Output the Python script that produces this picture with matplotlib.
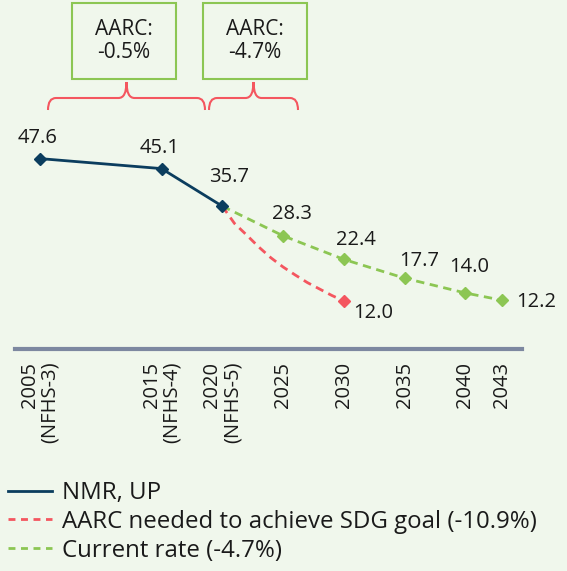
import matplotlib.pyplot as plt
from matplotlib.path import Path
from matplotlib.lines import Line2D
import matplotlib.patches as patches

plt.rcParams['font.family'] = ['Open Sans', 'DejaVu Sans']

# datos
nmr_years = [2005, 2015, 2020]
nmr_vals = [47.6, 45.1, 35.7]

sdg_years = [2020, 2021, 2022, 2023, 2024, 2025, 2026, 2027, 2028, 2029, 2030]
sdg_vals = [35.7, 31.4, 28.5, 25.5, 22.8, 20.5, 18.5, 16.6, 15.0, 13.4, 12.0]

cur_years = [2020, 2025, 2030, 2035, 2040, 2043]
cur_vals = [35.7, 28.3, 22.4, 17.7, 14.0, 12.2]

tick_years = [2005, 2015, 2020, 2025, 2030, 2035, 2040, 2043]
tick_labels = ['2005\n(NFHS-3)', '2015\n(NFHS-4)', '2020\n(NFHS-5)', '2025',
               '2030', '2035', '2040', '2043']

aarc_boxes = ['AARC:\n-0.5%', 'AARC:\n-4.7%']
leg_labels = ['NMR, UP', 'AARC needed to achieve SDG goal (-10.9%)',
              'Current rate (-4.7%)']

bg = '#f0f7ec'
navy = '#0b3d5e'
red = '#f4565f'
green = '#8cc653'
txt = '#1a1a1a'
fs = 14.5

W, H = 567, 571
fig = plt.figure(figsize=(W / 100, H / 100), dpi=100, facecolor=bg)
ax = fig.add_axes([15 / W, 1 - 349 / H, 507 / W, 200 / H])
ax.set_facecolor(bg)

dash = (0, (3, 2))
ax.plot(nmr_years, nmr_vals, color=navy, lw=2, marker='D', ms=6, zorder=4)
ax.plot(sdg_years, sdg_vals, color=red, lw=2, ls=dash, zorder=3)
ax.plot(sdg_years[-1], sdg_vals[-1], color=red, marker='D', ms=6, zorder=3)
ax.plot(cur_years, cur_vals, color=green, lw=2, ls=dash, zorder=2)
ax.plot(cur_years[1:], cur_vals[1:], color=green, marker='D', ms=6, ls='none',
        zorder=2)

# etiquetas de valores (offset en puntos)
offs = {
    (2005, 47.6): (-1.5, 15, 'center'),
    (2015, 45.1): (-1.5, 15, 'center'),
    (2020, 35.7): (5, 21, 'center'),
    (2025, 28.3): (6.5, 16, 'center'),
    (2030, 22.4): (8.5, 14, 'center'),
    (2035, 17.7): (10.5, 12.5, 'center'),
    (2040, 14.0): (3, 18.5, 'center'),
}
for (x, y), (dx, dy, ha) in offs.items():
    ax.annotate(f'{y:.1f}', (x, y), xytext=(dx, dy), textcoords='offset points',
                ha=ha, va='center', fontsize=fs, color=txt)
ax.annotate(f'{cur_vals[-1]:.1f}', (cur_years[-1], cur_vals[-1]), xytext=(10, -1.5),
            textcoords='offset points', ha='left', va='center', fontsize=fs, color=txt)
ax.annotate(f'{sdg_vals[-1]:.1f}', (sdg_years[-1], sdg_vals[-1]), xytext=(6.5, -8.5),
            textcoords='offset points', ha='left', va='center', fontsize=fs, color=txt)

ax.set_xlim(2002.95, 2044.65)
ax.set_ylim(0, 50)
for s in ['top', 'right', 'left']:
    ax.spines[s].set_visible(False)
ax.spines['bottom'].set_color('#7d88a0')
ax.spines['bottom'].set_linewidth(3)
ax.set_yticks([])
ax.set_xticks(tick_years)
ax.set_xticklabels(tick_labels, rotation=90, va='top', ha='center',
                   multialignment='right', fontsize=fs, color=txt, linespacing=1.0)
ax.tick_params(axis='x', length=0, pad=9)

# cajas AARC
for x0, lab in zip([72, 203], aarc_boxes):
    r = patches.Rectangle((x0 / W, 1 - 79 / H), 104 / W, 76 / H,
                          transform=fig.transFigure, fill=False,
                          edgecolor=green, lw=1.5)
    fig.add_artist(r)
    fig.text((x0 + 52) / W, 1 - 41 / H, lab, ha='center', va='center',
             fontsize=15, color=txt, linespacing=1.15)

# llaves
def brace(x0, x1, y_end=110, y_flat=98, y_tip=82, r=8):
    xm = (x0 + x1) / 2
    verts = [(x0, y_end), (x0, y_flat), (x0 + r, y_flat),
             (xm - r, y_flat),
             (xm, y_flat), (xm, y_tip),
             (xm, y_flat), (xm + r, y_flat),
             (x1 - r, y_flat),
             (x1, y_flat), (x1, y_end)]
    codes = [Path.MOVETO, Path.CURVE3, Path.CURVE3, Path.LINETO,
             Path.CURVE3, Path.CURVE3,
             Path.CURVE3, Path.CURVE3, Path.LINETO, Path.CURVE3, Path.CURVE3]
    verts = [(vx / W, 1 - vy / H) for vx, vy in verts]
    p = patches.PathPatch(Path(verts, codes), transform=fig.transFigure,
                          fill=False, edgecolor=red, lw=1.5)
    fig.add_artist(p)

brace(48, 205)
brace(209, 298)

handles = [Line2D([], [], color=navy, lw=2),
           Line2D([], [], color=red, lw=2, ls=(0, (2.5, 2))),
           Line2D([], [], color=green, lw=2, ls=(0, (2.5, 2)))]
fig.legend(handles, leg_labels, loc='upper left', bbox_to_anchor=(8 / W, 1 - 481 / H),
           frameon=False, fontsize=17.3, handlelength=1.85, labelspacing=0.2,
           handletextpad=0.4, borderpad=0, borderaxespad=0, labelcolor=txt)

fig.savefig('out.png', dpi=100, facecolor=bg)
